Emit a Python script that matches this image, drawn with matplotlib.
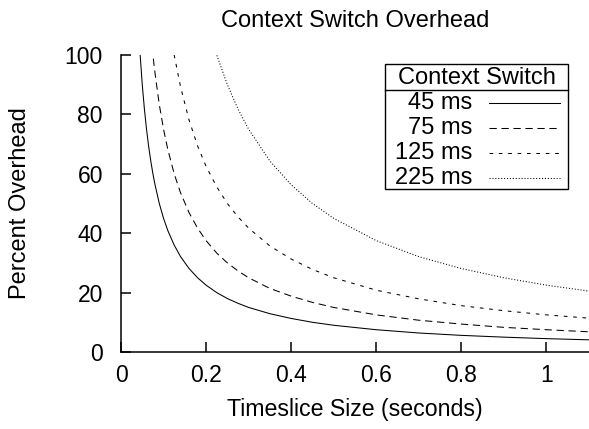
import matplotlib
matplotlib.use('Agg')
import matplotlib.pyplot as plt

plt.rcParams['font.family'] = ['Liberation Sans', 'DejaVu Sans']

# timeslice sizes (seconds) and overhead (%)
timeslice = [0.04, 0.045, 0.05, 0.055, 0.06, 0.065, 0.07, 0.075, 0.08, 0.09, 0.1,
             0.11, 0.125, 0.14, 0.16, 0.18, 0.2, 0.225, 0.25, 0.275, 0.3, 0.35,
             0.4, 0.45, 0.5, 0.6, 0.7, 0.8, 0.9, 1.0, 1.1]

ovh_45 = [112.5, 100, 90, 81.8, 75, 69.2, 64.3, 60, 56.3, 50, 45,
          40.9, 36, 32.1, 28.1, 25, 22.5, 20, 18, 16.4, 15, 12.9,
          11.3, 10, 9, 7.5, 6.4, 5.6, 5, 4.5, 4.1]
ovh_75 = [187.5, 166.7, 150, 136.4, 125, 115.4, 107.1, 100, 93.8, 83.3, 75,
          68.2, 60, 53.6, 46.9, 41.7, 37.5, 33.3, 30, 27.3, 25, 21.4,
          18.8, 16.7, 15, 12.5, 10.7, 9.4, 8.3, 7.5, 6.8]
ovh_125 = [312.5, 277.8, 250, 227.3, 208.3, 192.3, 178.6, 166.7, 156.3, 138.9, 125,
           113.6, 100, 89.3, 78.1, 69.4, 62.5, 55.6, 50, 45.5, 41.7, 35.7,
           31.3, 27.8, 25, 20.8, 17.9, 15.6, 13.9, 12.5, 11.4]
ovh_225 = [562.5, 500, 450, 409.1, 375, 346.2, 321.4, 300, 281.3, 250, 225,
           204.5, 180, 160.7, 140.6, 125, 112.5, 100, 90, 81.8, 75, 64.3,
           56.3, 50, 45, 37.5, 32.1, 28.1, 25, 22.5, 20.5]

labels = ['45 ms', '75 ms', '125 ms', '225 ms']
series = [ovh_45, ovh_75, ovh_125, ovh_225]
styles = [None, (7, 4.5), (3.5, 5.5), (1, 1.8)]

W, H = 589, 429
fig = plt.figure(figsize=(W / 100, H / 100), dpi=100)
ax = fig.add_axes([121 / W, 1 - 352 / H, (W - 121) / W, 297 / H])


def fpos(x, y):
    # pixel position (from top-left) -> figure fraction
    return x / W, 1 - y / H


lines = []
for lab, y, st in zip(labels, series, styles):
    line, = ax.plot(timeslice, y, color='black', lw=0.75, label=lab)
    if st is not None:
        line.set_dashes(st)
    lines.append(line)

ax.set_xlim(0, 1.1)
ax.set_ylim(0, 100)
ax.set_xticks([0, 0.2, 0.4, 0.6, 0.8, 1.0])
ax.set_xticklabels(['0', '0.2', '0.4', '0.6', '0.8', '1'])
ax.set_yticks([0, 20, 40, 60, 80, 100])
ax.spines['top'].set_visible(False)
ax.spines['right'].set_visible(False)
for s in ['left', 'bottom']:
    ax.spines[s].set_linewidth(1.1)
ax.tick_params(direction='in', length=7, width=1.1, labelsize=16.5)
ax.tick_params(axis='x', pad=8.3)
ax.tick_params(axis='y', pad=13)

ax.set_xlabel('Timeslice Size (seconds)', fontsize=16.7, labelpad=8)
ax.set_ylabel('Percent Overhead', fontsize=17, labelpad=24)
ax.set_title('Context Switch Overhead', fontsize=17, pad=20)

# legend box, drawn by hand to get the gnuplot look
lx0, lx1, ly0, ly1 = 385, 568, 64, 189
fig.add_artist(plt.Rectangle(fpos(lx0, ly1), (lx1 - lx0) / W, (ly1 - ly0) / H,
                             transform=fig.transFigure, fill=False,
                             edgecolor='black', lw=1.0))
fig.add_artist(plt.Line2D([lx0 / W, lx1 / W], [1 - 90 / H] * 2, color='black', lw=1.0))
fig.text(*fpos((lx0 + lx1) / 2, 77.5), 'Context Switch', fontsize=17,
         ha='center', va='center')
for i, (lab, line) in enumerate(zip(labels, lines)):
    yc = 103 + 25 * i
    fig.text(*fpos(472, yc), lab, fontsize=17, ha='right', va='center')
    sample = plt.Line2D([489 / W, 560 / W], [1 - yc / H] * 2, color='black', lw=0.75)
    if styles[i] is not None:
        sample.set_dashes(styles[i])
    fig.add_artist(sample)

fig.savefig('out.png', dpi=100)
